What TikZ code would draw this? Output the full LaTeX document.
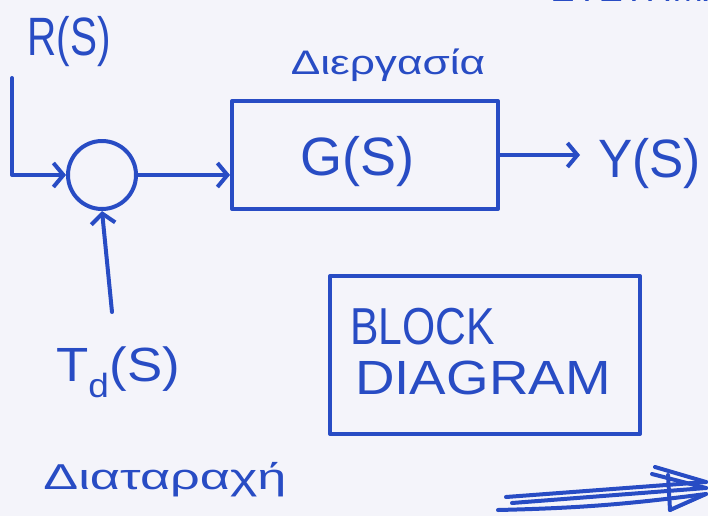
\documentclass[tikz,border=0pt]{standalone}
\usepackage{fontspec}
\setmainfont{Liberation Sans}
\usetikzlibrary{arrows.meta}
\definecolor{ink}{RGB}{40,76,196}
\definecolor{paper}{RGB}{244,244,250}
\tikzset{
  pen/.style={draw=ink, line width=4pt, line cap=round, line join=round},
  arr/.style={pen, -{Straight Barb[length=10pt,width=24pt,line width=4pt]}},
  lbl/.style={text=ink, inner sep=0pt, font=\fontsize{#1}{#1}\selectfont},
  lbl/.default=40,
  blk/.style={pen, rectangle, minimum width=266pt, minimum height=108pt, inner sep=0pt},
  sumnode/.style={pen, circle, minimum size=68pt, inner sep=0pt},
}
\begin{document}
\begin{tikzpicture}[x=1pt, y=-1pt]
  % page
  \fill[paper] (0,0) rectangle (708,516);
  \useasboundingbox (0,0) rectangle (708,516);

  % header text running off the top edge
  \begin{scope}
    \clip (0,0) rectangle (708,516);
    \node[lbl=34, xscale=1.1] (hdr) at (640,-10) {ΣΥΣΤΗΜΑ};
  \end{scope}

  % blocks
  \node[sumnode] (sum) at (102,175) {};
  \node[blk] (G) at (365,155) {};
  \node[lbl=54] (Gt) at (357,162) {G(S)};
  \node[lbl=34, xscale=1.3] (proc) at (388,65) {Διεργασία};

  % signals
  \node[lbl=54, xscale=0.75] (R) at (69,42) {R(S)};
  \node[lbl=54, xscale=0.95, anchor=west] (Y) at (598,164) {Y(S)};
  \node[lbl=48, xscale=1.1] (Td) at (118,372) {T\textsubscript{d}(S)};
  \node[lbl=36, xscale=1.45] (dist) at (165,480) {Διαταραχή};

  \coordinate (rstart) at (12,78);
  \coordinate (tdtop) at (112,312);
  \coordinate (yend) at (580,155);

  % connectors
  \draw[arr] (rstart) |- (sum.west);
  \draw[arr] (tdtop) -- (sum.south);
  \draw[arr] (sum.east) -- (sum.east -| G.west);
  \draw[arr] (G.east) -- (yend);

  % labelled box
  \node[pen, rectangle, minimum width=310pt, minimum height=158pt, inner sep=0pt] (bd) at (485,355) {};
  \node[lbl=52, xscale=0.82, anchor=west] (b1) at (350,327) {BLOCK};
  \node[lbl=48, xscale=1.14, anchor=west] (b2) at (355,378) {DIAGRAM};

  % big arrow at the bottom right
  \coordinate (a1) at (506,497);
  \coordinate (a2) at (512,503);
  \coordinate (a3) at (498,510);
  \coordinate (h1) at (706,482);
  \coordinate (h2) at (706,488);
  \coordinate (h3) at (706,494);
  \draw[pen] (a1) -- (h1);
  \draw[pen] (a2) -- (h2);
  \draw[pen] (a3) to[bend right=3] (h3);
  \draw[pen] (655,467) -- (h1);
  \draw[pen] (652,474) -- (h2);
  \draw[pen] (670,510) -- (h3);
  \draw[pen] (668,475) -- (670,510);
\end{tikzpicture}
\end{document}
